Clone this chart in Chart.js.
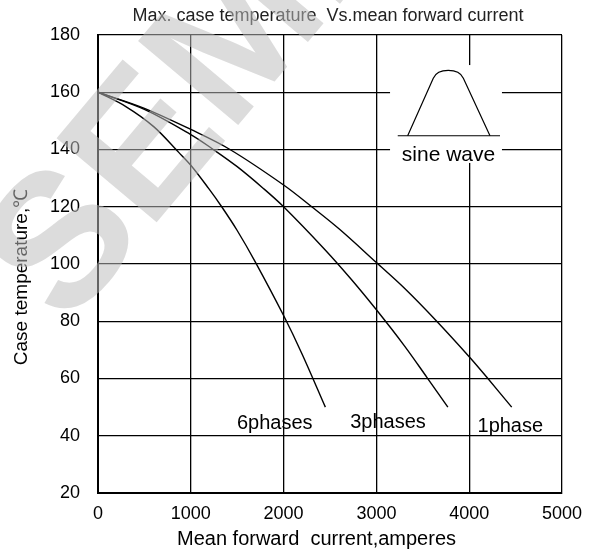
<!DOCTYPE html>
<html><head><meta charset="utf-8">
<script src="https://cdn.jsdelivr.net/npm/chart.js@4/dist/chart.umd.min.js"></script>
<style>html,body{margin:0;padding:0;background:#fff}#wrap{width:593px;height:555px}</style>
</head><body><div id="wrap"><canvas id="c" width="593" height="555"></canvas></div>
<script>
const TITLE = 'Max. case temperature  Vs.mean forward current';
const X_TITLE = 'Mean forward  current,amperes';
const Y_TITLE = 'Case temperature,\u2103';
const WATERMARK = 'SEMI';
const INSET_TEXT = 'sine wave';
const X_TICKS = [0, 1000, 2000, 3000, 4000, 5000];
const Y_TICKS = [20, 40, 60, 80, 100, 120, 140, 160, 180];
const SERIES = ['6phases', '3phases', '1phase'];
const X_6PH = [0, 300, 600, 870, 1000, 1190, 1333, 1500, 1690, 2000, 2200, 2450];
const Y_6PH = [160, 155, 148, 139, 134.5, 126.5, 120, 111.7, 101, 82, 68.5, 50];
const X_3PH = [0, 500, 1000, 1243, 1500, 1782, 2000, 2446, 2733, 3000, 3300, 3542, 3770];
const Y_3PH = [160, 154, 145.2, 140, 134, 126.4, 120, 105, 94.5, 84, 71.5, 60.5, 50];
const X_1PH = [0, 500, 1000, 1422, 2000, 2303, 2600, 3000, 3300, 3650, 4000, 4188, 4458];
const Y_1PH = [160, 154.4, 147, 140, 127.6, 120, 112.2, 100.5, 91.6, 80, 67.6, 60.5, 50];

const pts = (xs, ys) => xs.map((v, i) => ({x: v, y: ys[i]}));
const FONT = 'Arial, "Liberation Sans", sans-serif';

// label anchors in data units (x, baseline y)
const LABEL_POS = [[1904, 42.3], [3125, 42.6], [4443, 41.4]];

const decor = {
  id: 'decor',
  afterDatasetsDraw(chart) {
    const {ctx, scales: {x, y}} = chart;
    const X = v => x.getPixelForValue(v), Y = v => y.getPixelForValue(v);
    ctx.save();
    const l = X(3147), r = X(4353), t = Y(169.5), b = Y(135.3);
    ctx.fillStyle = '#fff';
    ctx.fillRect(l, t, r - l, b - t);
    ctx.strokeStyle = '#000';
    ctx.lineWidth = 1.2;
    const by = Y(144.8);
    ctx.beginPath(); ctx.moveTo(X(3230), by); ctx.lineTo(X(4332), by); ctx.stroke();
    const xl = X(3337), xa = X(3613), xb = X(3937), xr = X(4224), ay = Y(164.9);
    const k = 0.18;
    ctx.beginPath();
    ctx.moveTo(xl, by);
    ctx.lineTo(xa, ay);
    ctx.bezierCurveTo(xa + k * (xa - xl), ay + k * (ay - by), xb - k * (xr - xb), ay + k * (ay - by), xb, ay);
    ctx.lineTo(xr, by);
    ctx.stroke();
    ctx.fillStyle = '#000';
    ctx.textAlign = 'center';
    ctx.textBaseline = 'alphabetic';
    ctx.font = '21px ' + FONT;
    ctx.fillText(INSET_TEXT, X(3777), Y(136.1));
    ctx.font = '20px ' + FONT;
    SERIES.forEach((s, i) => ctx.fillText(s, X(LABEL_POS[i][0]), Y(LABEL_POS[i][1])));
    ctx.restore();
  },
  afterDraw(chart) {
    const {ctx, chartArea: ca} = chart;
    ctx.save();
    ctx.fillStyle = '#222';
    ctx.textAlign = 'center';
    ctx.textBaseline = 'alphabetic';
    ctx.font = '18px ' + FONT;
    ctx.fillText(TITLE, (ca.left + ca.right) / 2 - 2, ca.top - 14.5);
    ctx.fillStyle = '#000';
    ctx.font = '20px ' + FONT;
    ctx.fillText(X_TITLE, (ca.left + ca.right) / 2 - 13.5, ca.bottom + 52);
    ctx.save();
    ctx.translate(27, (ca.top + ca.bottom) / 2 + 13);
    ctx.rotate(-Math.PI / 2);
    ctx.font = '19px ' + FONT;
    ctx.fillText(Y_TITLE, 0, 0);
    ctx.restore();
    ctx.save();
    ctx.fillStyle = 'rgba(189,189,189,0.53)';
    ctx.translate(67, 329);
    ctx.rotate(-50 * Math.PI / 180);
    ctx.textAlign = 'left';
    ctx.font = 'bold 190px ' + FONT;
    ctx.fillText(WATERMARK, 0, 0);
    ctx.restore();
    ctx.restore();
  }
};

const lineDs = (label, data) => ({
  label, data, borderColor: '#000', borderWidth: 1.4, pointRadius: 0,
  tension: 0.35, fill: false
});

new Chart(document.getElementById('c'), {
  type: 'line',
  data: {
    datasets: [
      lineDs(SERIES[0], pts(X_6PH, Y_6PH)),
      lineDs(SERIES[1], pts(X_3PH, Y_3PH)),
      lineDs(SERIES[2], pts(X_1PH, Y_1PH))
    ]
  },
  options: {
    responsive: false, devicePixelRatio: 1, animation: false,
    layout: {padding: {top: 35, right: 31, left: 0, bottom: 0}},
    plugins: {legend: {display: false}, title: {display: false}, tooltip: {enabled: false}},
    scales: {
      x: {
        type: 'linear', min: 0, max: 5000,
        afterBuildTicks: s => { s.ticks = X_TICKS.map(v => ({value: v})); },
        afterFit: s => { s.height = 62; },
        ticks: {color: '#000', font: {size: 18, family: FONT}, padding: 10, maxRotation: 0, callback: v => String(v)},
        grid: {color: '#000', lineWidth: 1.3, drawTicks: false},
        border: {color: '#000', width: 2}
      },
      y: {
        type: 'linear', min: 20, max: 180,
        afterBuildTicks: s => { s.ticks = Y_TICKS.map(v => ({value: v})); },
        afterFit: s => { s.width = 98; },
        ticks: {color: '#000', font: {size: 18, family: FONT}, padding: 18, callback: v => String(v)},
        grid: {color: '#000', lineWidth: 1.3, drawTicks: false},
        border: {color: '#000', width: 2}
      }
    }
  },
  plugins: [decor]
});
</script>
</body></html>
